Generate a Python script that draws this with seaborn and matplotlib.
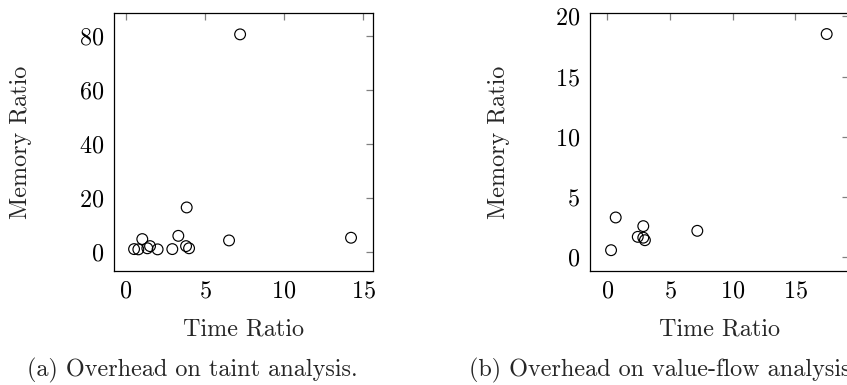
import matplotlib
matplotlib.use("Agg")
import matplotlib.pyplot as plt
import pandas as pd
import seaborn as sns

# taint analysis overhead (a)
taint_time = [7.22, 3.84, 14.24, 6.52, 3.31, 1.03, 1.52, 0.51, 0.78, 1.35, 2.00, 2.93, 3.80, 3.99]
taint_mem = [80.5, 16.5, 5.3, 4.3, 6.0, 4.8, 2.2, 1.1, 1.0, 1.4, 1.0, 1.1, 2.2, 1.4]

# value-flow analysis overhead (b)
vf_time = [17.5, 0.67, 0.30, 2.87, 2.43, 2.87, 3.00, 7.18]
vf_mem = [18.53, 3.28, 0.56, 2.56, 1.67, 1.60, 1.39, 2.17]

taint_xticks = [0, 5, 10, 15]
taint_yticks = [0, 20, 40, 60, 80]
vf_xticks = [0, 5, 10, 15]
vf_yticks = [0, 5, 10, 15, 20]

captions = ['(a) Overhead on taint analysis.', '(b) Overhead on value-flow analysis.']

df_a = pd.DataFrame({'time': taint_time, 'mem': taint_mem})
df_b = pd.DataFrame({'time': vf_time, 'mem': vf_mem})

sns.set_style('white')
plt.rcParams['font.family'] = ['cmr10', 'DejaVu Serif']
plt.rcParams['axes.formatter.use_mathtext'] = True
plt.rcParams['mathtext.fontset'] = 'cm'
fs = 17.4

W, H = 847, 385
fig = plt.figure(figsize=(W / 100, H / 100), dpi=100)
ax_a = fig.add_axes([114 / W, 1 - 271 / H, 259 / W, 258 / H])
ax_b = fig.add_axes([590 / W, 1 - 271 / H, 259 / W, 258 / H])

setups = [
    (ax_a, df_a, (-0.76, 15.63), (-7.0, 88.4), taint_xticks, taint_yticks, -0.359),
    (ax_b, df_b, (-1.38, 19.28), (-1.17, 20.28), vf_xticks, vf_yticks, -0.351),
]

for ax, df, xl, yl, xt, yt, ylab_x in setups:
    sns.scatterplot(data=df, x='time', y='mem', ax=ax, marker='o', s=60,
                    facecolors='none', edgecolor='black', linewidth=0.85, zorder=3)
    ax.set_xlim(*xl)
    ax.set_ylim(*yl)
    ax.set_xticks(xt)
    ax.set_yticks(yt)
    ax.tick_params(direction='in', top=True, right=True, length=5, width=0.9,
                   color='0.5', labelsize=fs, pad=7, labelcolor='black')
    for sp in ax.spines.values():
        sp.set_color('black')
        sp.set_linewidth(0.9)
    ax.set_xlabel('Time Ratio', fontsize=fs, va='center')
    ax.set_ylabel('Memory Ratio', fontsize=fs, va='center')
    ax.xaxis.set_label_coords(0.5, -0.225)
    ax.yaxis.set_label_coords(ylab_x, 0.5)

fig.text(192 / W, 1 - 370 / H, captions[0], fontsize=fs, ha='center', va='center')
fig.text(469 / W, 1 - 370 / H, captions[1], fontsize=fs, ha='left', va='center')

fig.savefig('out.png', dpi=100)
